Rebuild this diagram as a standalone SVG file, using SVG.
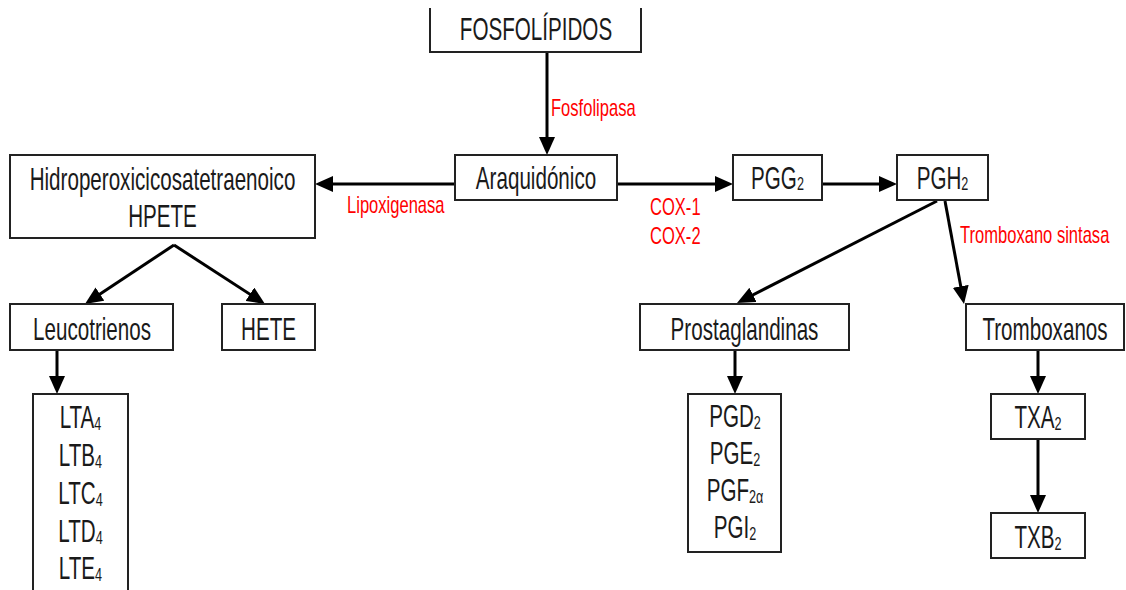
<svg xmlns="http://www.w3.org/2000/svg" width="1126" height="590" viewBox="0 0 1126 590">
  <style>
    .box { fill: #fff; stroke: #222; stroke-width: 2; }
    .t { font-family: "Liberation Sans", Arial, sans-serif; font-size: 31px; fill: #1a1a1a; text-anchor: middle; }
    .s { font-size: 19px; }
    .r { font-family: "Liberation Sans", Arial, sans-serif; font-size: 23px; fill: #ff0000; }
    .edge { fill: none; stroke: #000; stroke-width: 3; marker-end: url(#head); }
  </style>
  <defs>
    <marker id="head" viewBox="0 0 18 16" markerUnits="userSpaceOnUse" markerWidth="18" markerHeight="16" refX="8" refY="8" orient="auto">
      <path d="M0,0 L18,8 L0,16 z" fill="#000"/>
    </marker>
  </defs>
  <rect width="1126" height="590" fill="#fff"/>

  <!-- connectors -->
  <g id="connectors">
    <path class="edge" d="M547,52 V145"/>
    <path class="edge" d="M455,184 H325"/>
    <path class="edge" d="M617,184 H723"/>
    <path class="edge" d="M822,184 H887"/>
    <path class="edge" d="M174,245 L93.3,298.5"/>
    <path class="edge" d="M174,245 L256.6,298.6"/>
    <path class="edge" d="M57,350 V384"/>
    <path class="edge" d="M937,201 L745.9,298.5"/>
    <path class="edge" d="M945,201 L962.2,294.2"/>
    <path class="edge" d="M735,350 V384"/>
    <path class="edge" d="M1038,350 V384"/>
    <path class="edge" d="M1038,439 V503"/>
  </g>

  <!-- enzyme labels -->
  <g id="labels">
    <text class="r" transform="matrix(0.72 0 0 1 551 116)">Fosfolipasa</text>
    <text class="r" transform="matrix(0.72 0 0 1 347 213)">Lipoxigenasa</text>
    <text class="r" transform="matrix(0.72 0 0 1 650 215)">COX-1</text>
    <text class="r" transform="matrix(0.72 0 0 1 650 244)">COX-2</text>
    <text class="r" transform="matrix(0.72 0 0 1 960 243)">Tromboxano sintasa</text>
  </g>

  <g id="fosfolipidos">
    <path class="box" d="M430,8 V52 H641 V8"/>
    <text class="t" transform="matrix(0.665 0 0 1 536 40)">FOSFOLÍPIDOS</text>
  </g>

  <g id="araquidonico">
    <rect class="box" x="455" y="155" width="162" height="45"/>
    <text class="t" transform="matrix(0.665 0 0 1 536 189)">Araquidónico</text>
  </g>

  <g id="hpete">
    <rect class="box" x="10" y="155" width="305" height="83"/>
    <text class="t" transform="matrix(0.665 0 0 1 162.5 190)">Hidroperoxicicosatetraenoico</text>
    <text class="t" transform="matrix(0.665 0 0 1 162.5 227)">HPETE</text>
  </g>

  <g id="leucotrienos">
    <rect class="box" x="10" y="304" width="163" height="46"/>
    <text class="t" transform="matrix(0.665 0 0 1 92 340)">Leucotrienos</text>
  </g>

  <g id="hete">
    <rect class="box" x="222" y="304" width="93" height="46"/>
    <text class="t" transform="matrix(0.665 0 0 1 268.5 340)">HETE</text>
  </g>

  <g id="lt-lista">
    <path class="box" d="M33,592 V394 H128 V592"/>
    <text class="t" transform="matrix(0.665 0 0 1 80.5 428)">LTA<tspan class="s" dy="2">4</tspan></text>
    <text class="t" transform="matrix(0.665 0 0 1 80.5 466)">LTB<tspan class="s" dy="2">4</tspan></text>
    <text class="t" transform="matrix(0.665 0 0 1 80.5 504)">LTC<tspan class="s" dy="2">4</tspan></text>
    <text class="t" transform="matrix(0.665 0 0 1 80.5 542)">LTD<tspan class="s" dy="2">4</tspan></text>
    <text class="t" transform="matrix(0.665 0 0 1 80.5 579)">LTE<tspan class="s" dy="2">4</tspan></text>
  </g>

  <g id="pgg2">
    <rect class="box" x="733" y="155" width="89" height="45"/>
    <text class="t" transform="matrix(0.665 0 0 1 777.5 189)">PGG<tspan class="s" dy="1">2</tspan></text>
  </g>

  <g id="pgh2">
    <rect class="box" x="897" y="155" width="91" height="45"/>
    <text class="t" transform="matrix(0.665 0 0 1 942.5 189)">PGH<tspan class="s" dy="1">2</tspan></text>
  </g>

  <g id="prostaglandinas">
    <rect class="box" x="640" y="304" width="209" height="46"/>
    <text class="t" transform="matrix(0.665 0 0 1 744.5 340)">Prostaglandinas</text>
  </g>

  <g id="pg-lista">
    <rect class="box" x="688" y="394" width="93" height="158"/>
    <text class="t" transform="matrix(0.665 0 0 1 735 427)">PGD<tspan class="s" dy="2">2</tspan></text>
    <text class="t" transform="matrix(0.665 0 0 1 735 464)">PGE<tspan class="s" dy="2">2</tspan></text>
    <text class="t" transform="matrix(0.665 0 0 1 735 501)">PGF<tspan class="s" dy="2">2α</tspan></text>
    <text class="t" transform="matrix(0.665 0 0 1 735 538)">PGI<tspan class="s" dy="2">2</tspan></text>
  </g>

  <g id="tromboxanos">
    <rect class="box" x="966" y="304" width="158" height="46"/>
    <text class="t" transform="matrix(0.665 0 0 1 1045 340)">Tromboxanos</text>
  </g>

  <g id="txa2">
    <rect class="box" x="991" y="394" width="94" height="45"/>
    <text class="t" transform="matrix(0.665 0 0 1 1038 428)">TXA<tspan class="s" dy="2">2</tspan></text>
  </g>

  <g id="txb2">
    <rect class="box" x="991" y="513" width="94" height="45"/>
    <text class="t" transform="matrix(0.665 0 0 1 1038 548)">TXB<tspan class="s" dy="2">2</tspan></text>
  </g>
</svg>
